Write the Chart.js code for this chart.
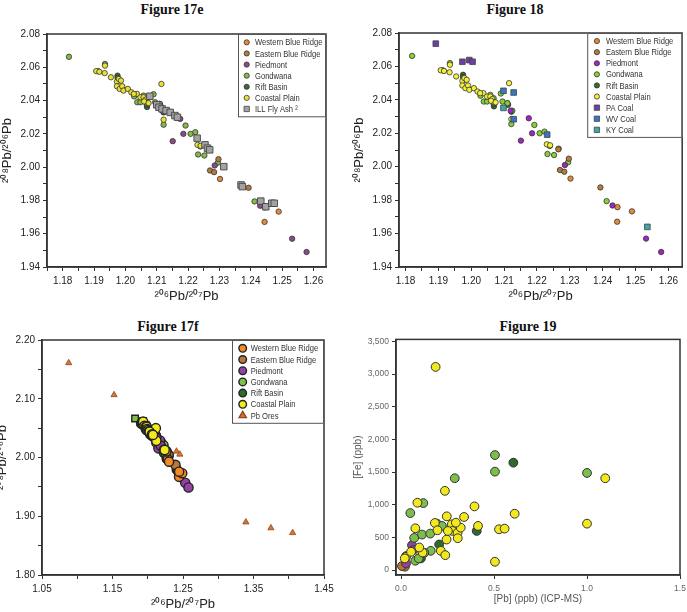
<!DOCTYPE html>
<html>
<head>
<meta charset="utf-8">
<script src="https://cdn.jsdelivr.net/npm/chart.js@4.4.0/dist/chart.umd.min.js"></script>
<style>
    html, body { margin: 0; padding: 0; background: #fff; }
    #page { position: relative; width: 687px; height: 612px; overflow: hidden; }
    .fig-title {
        position: absolute; width: 200px; text-align: center;
        font-family: 'Liberation Serif', 'Times New Roman', serif;
        font-weight: bold; font-size: 14px; color: #111; line-height: 16px;
    }
    .panel { position: absolute; }
</style>
</head>
<body>
<div id="page">
    <div class="fig-title" style="left:72px; top:2px;">Figure 17e</div>
    <div class="fig-title" style="left:415px; top:2px;">Figure 18</div>
    <div class="fig-title" style="left:68px; top:319px;">Figure 17f</div>
    <div class="fig-title" style="left:428px; top:319px;">Figure 19</div>

    <div class="panel" style="left:0; top:22px; width:343px; height:284px;"><canvas id="fig17e"></canvas></div>
    <div class="panel" style="left:343px; top:22px; width:344px; height:284px;"><canvas id="fig18"></canvas></div>
    <div class="panel" style="left:0; top:334px; width:343px; height:278px;"><canvas id="fig17f"></canvas></div>
    <div class="panel" style="left:343px; top:334px; width:344px; height:278px;"><canvas id="fig19"></canvas></div>
</div>

<script>
// ---- Lead isotope ratios (206Pb/207Pb, 208Pb/206Pb) ----
const westernBlueRidge = [[1.2302, 1.9929], [1.2444, 1.9671], [1.2489, 1.9733], [1.2445, 1.9758]];
const easternBlueRidge = [[1.2297, 2.0048], [1.2270, 1.9980], [1.2283, 1.9970], [1.2393, 1.9876], [1.2265, 2.0104]];
const piedmont = [[1.2175, 2.0290], [1.2151, 2.0156], [1.2185, 2.0200], [1.2285, 2.0010], [1.2430, 1.9768],
    [1.2532, 1.9570], [1.2578, 1.9490], [1.2120, 2.0335]];
const gondwana = [[1.1820, 2.0663], [1.1935, 2.0620], [1.1913, 2.0577], [1.2038, 2.0390], [1.2048, 2.0390],
    [1.2058, 2.0430], [1.2090, 2.0438], [1.2095, 2.0390], [1.2110, 2.0380], [1.2122, 2.0255], [1.2192, 2.0250],
    [1.2208, 2.0200], [1.2223, 2.0210], [1.2232, 2.0076], [1.2239, 2.0124], [1.2252, 2.0070], [1.2266, 2.0108],
    [1.2295, 2.0027], [1.2412, 1.9794], [1.2028, 2.0425], [1.2068, 2.0410], [1.2125, 2.0335]];
const riftBasin = [[1.1975, 2.0550], [1.1975, 2.0537], [1.1978, 2.0520], [1.2069, 2.0361], [1.2110, 2.0380],
    [1.2112, 2.0370], [1.2122, 2.0329], [1.2068, 2.0375], [1.2055, 2.0410]];
const coastalPlain = [[1.1907, 2.0577], [1.1917, 2.0573], [1.1934, 2.0565], [1.1935, 2.0610], [1.1954, 2.0540],
    [1.1973, 2.0514], [1.1973, 2.0486], [1.1979, 2.0530], [1.1986, 2.0520], [1.1982, 2.0470], [1.1990, 2.0486],
    [1.1994, 2.0460], [1.2008, 2.0470], [1.2019, 2.0450], [1.2037, 2.0440], [1.2048, 2.0420], [1.2058, 2.0420],
    [1.2064, 2.0405], [1.2069, 2.0386], [1.2115, 2.0500], [1.2122, 2.0285], [1.2230, 2.0134], [1.2027, 2.0440],
    [1.2060, 2.0395], [1.2074, 2.0385], [1.2240, 2.0128]];
const illFlyAsh = [[1.2078, 2.0426], [1.2100, 2.0375], [1.2107, 2.0360], [1.2117, 2.0350], [1.2130, 2.0340],
    [1.2143, 2.0329], [1.2158, 2.0310], [1.2166, 2.0300], [1.2229, 2.0174], [1.2254, 2.0134], [1.2262, 2.0114],
    [1.2269, 2.0104], [1.2314, 2.0003], [1.2369, 1.9893], [1.2373, 1.9883], [1.2432, 1.9796], [1.2448, 1.9762],
    [1.2467, 1.9783], [1.2475, 1.9783]];
const paCoal = [[1.1892, 2.0736], [1.1973, 2.0628], [1.1994, 2.0638], [1.2004, 2.0628]];
const wvCoal = [[1.2098, 2.0454], [1.2129, 2.0444], [1.2129, 2.0284], [1.2231, 2.0192]];
const kyCoal = [[1.2098, 2.0352], [1.2536, 1.9640]];
const pbOres = [[1.0879, 2.1610], [1.1522, 2.1066], [1.2408, 2.0105], [1.2455, 2.0054], [1.2127, 2.0370],
    [1.3392, 1.8900], [1.3747, 1.8800], [1.4055, 1.8718]];

// ---- Figure 19: [Pb] (ppb) vs [Fe] (ppb) ----
const fePbCoastal = [[0.186, 3109], [0.236, 1212], [0.088, 1030], [0.077, 639], [0.116, 268], [0.027, 203],
    [0.020, 178], [0.182, 720], [0.196, 609], [0.214, 294], [0.238, 228], [0.246, 822], [0.339, 812],
    [0.395, 974], [0.611, 862], [0.414, 675], [0.527, 624], [0.557, 634], [0.505, 127], [1.000, 710],
    [1.098, 1405], [0.273, 700], [0.277, 598], [0.304, 568], [0.305, 487], [0.321, 649], [0.245, 467],
    [0.252, 598], [0.295, 725], [0.098, 345], [0.054, 279]];
const fePbGondwana = [[0.050, 872], [0.120, 1025], [0.289, 1405], [0.505, 1760], [0.505, 1506], [1.000, 1486],
    [0.071, 492], [0.113, 543], [0.157, 558], [0.193, 710], [0.220, 675], [0.160, 294], [0.077, 142],
    [0.027, 213], [0.095, 178], [0.125, 264]];
const fePbRift = [[0.604, 1643], [0.407, 598], [0.205, 391], [0.107, 178]];
const fePbPiedmont = [[0.059, 380], [0.066, 304], [0.027, 101]];
const fePbBlueRidge = [[0.021, 51], [0.005, 61]];

// tick values for figure 19
const fig19XTicks = [0, 0.5, 1.0, 1.5];
const fig19YTicks = [0, 500, 1000, 1500, 2000, 2500, 3000, 3500];

const FONT = "'Liberation Sans', Arial, sans-serif";
const AXIS = '#333';

// Build a scatter dataset from an array of [x, y] pairs
function series(label, pts, color, style, r, bw, extra) {
    return Object.assign({
        label: label,
        data: pts.map(p => ({ x: p[0], y: p[1] })),
        backgroundColor: color,
        borderColor: extra && extra.edge ? extra.edge : '#333',
        pointBackgroundColor: color,
        pointBorderColor: extra && extra.edge ? extra.edge : '#333',
        pointBorderWidth: bw,
        pointRadius: r,
        pointHoverRadius: r,
        pointStyle: style,
        showLine: false
    }, extra || {});
}

function drawMarker(ctx, style, x, y, r, fill, edge, bw) {
    ctx.beginPath();
    if (style === 'rect') {
        const s = r * Math.SQRT1_2;
        ctx.rect(x - s, y - s, 2 * s, 2 * s);
    } else if (style === 'triangle') {
        ctx.moveTo(x, y - r);
        ctx.lineTo(x + r * 0.866, y + r * 0.5);
        ctx.lineTo(x - r * 0.866, y + r * 0.5);
        ctx.closePath();
    } else {
        ctx.arc(x, y, r, 0, Math.PI * 2);
    }
    ctx.fillStyle = fill;
    ctx.fill();
    ctx.lineWidth = bw;
    ctx.strokeStyle = edge;
    ctx.stroke();
}

// Legend drawn inside the top-right corner of the plot, plus a closed frame
const frameAndLegend = {
    id: 'frameAndLegend',
    afterDatasetsDraw(chart, args, opts) {
        const ctx = chart.ctx, a = chart.chartArea;
        ctx.save();
        ctx.strokeStyle = AXIS;
        ctx.lineWidth = 1.5;
        ctx.strokeRect(a.left, a.top, a.right - a.left, a.bottom - a.top);
        if (opts && opts.display) {
            const items = chart.data.datasets.filter(d => d.inLegend !== false);
            const x0 = a.right - opts.width, y0 = a.top;
            const h = opts.pad * 2 + items.length * opts.rowH;
            ctx.fillStyle = '#fff';
            ctx.fillRect(x0, y0, opts.width, h);
            ctx.lineWidth = 1;
            ctx.strokeStyle = '#555';
            ctx.strokeRect(x0 + 0.5, y0 + 0.5, opts.width - 1, h - 1);
            ctx.font = opts.fontSize + 'px ' + FONT;
            ctx.textBaseline = 'middle';
            items.forEach((d, i) => {
                const cy = y0 + opts.pad + opts.rowH * (i + 0.5);
                const st = typeof d.pointStyle === 'string' ? d.pointStyle : 'circle';
                const mr = st === 'rect' ? opts.markerR * 1.45 : (st === 'triangle' ? opts.markerR * 1.1 : opts.markerR);
                drawMarker(ctx, st, x0 + opts.markerX, cy, mr, d.pointBackgroundColor, d.pointBorderColor, opts.markerBw);
                ctx.fillStyle = '#333';
                const w = ctx.measureText(d.label).width * opts.squeeze;
                ctx.fillText(d.label, x0 + opts.textX, cy + 0.5, w);
            });
        }
        ctx.restore();
    }
};

// Linear axis with outward ticks, no grid inside the plot
function axis(o) {
    const cfg = {
        type: 'linear',
        min: o.min, max: o.max,
        afterFit: s => {
            if (o.w !== undefined) s.width = o.w;
            if (o.h !== undefined) s.height = o.h;
            s.paddingLeft = 0; s.paddingRight = 0; s.paddingTop = 0; s.paddingBottom = 0;
        },
        border: { display: true, color: AXIS, width: 1.5 },
        grid: { drawOnChartArea: false, drawTicks: true, tickLength: 4, color: AXIS, lineWidth: 1 },
        ticks: {
            stepSize: o.step, includeBounds: false, autoSkip: false, maxRotation: 0,
            padding: o.tickPad !== undefined ? o.tickPad : 3,
            color: o.tickColor || '#222',
            font: { family: FONT, size: o.tickSize || 10 },
            callback: o.label
        },
        title: {
            display: true, text: o.title, color: o.titleColor || '#222',
            font: { family: FONT, size: o.titleSize || 13 },
            padding: o.titlePad
        }
    };
    if (o.tickValues) {
        cfg.afterBuildTicks = s => { s.ticks = o.tickValues.map(v => ({ value: v })); };
    }
    return cfg;
}

const onHundredth = v => Math.abs(v * 100 - Math.round(v * 100)) < 1e-6;
const xLabelE = v => onHundredth(v) ? v.toFixed(2) : '';
const yLabelE = v => onHundredth(v) && Math.round(v * 100) % 2 === 0 ? v.toFixed(2) : '';
const xLabelF = v => Math.round(v * 100) % 10 === 5 ? v.toFixed(2) : '';
const yLabelF = v => Math.round(v * 100) % 10 === 0 ? v.toFixed(2) : '';

const X_TITLE = '\u00B2\u2070\u2076Pb/\u00B2\u2070\u2077Pb';
const Y_TITLE = '\u00B2\u2070\u2078Pb/\u00B2\u2070\u2076Pb';

function baseOptions(pad, scales, legend) {
    return {
        responsive: true,
        maintainAspectRatio: false,
        animation: false,
        devicePixelRatio: 1,
        layout: { padding: pad },
        scales: scales,
        plugins: {
            legend: { display: false },
            tooltip: { enabled: false },
            frameAndLegend: legend || { display: false }
        }
    };
}

Chart.register(frameAndLegend);

// Figure 17e
new Chart(document.getElementById('fig17e'), {
    type: 'scatter',
    data: {
        datasets: [
            series('Western Blue Ridge', westernBlueRidge, '#E38B3A', 'circle', 2.7, 0.8),
            series('Eastern Blue Ridge', easternBlueRidge, '#B27A3E', 'circle', 2.7, 0.8),
            series('Piedmont', piedmont, '#8B4A90', 'circle', 2.7, 0.8),
            series('Gondwana', gondwana, '#86B84A', 'circle', 2.7, 0.8),
            series('Rift Basin', riftBasin, '#3A6B33', 'circle', 2.7, 0.8),
            series('Coastal Plain', coastalPlain, '#E9E034', 'circle', 2.7, 0.8, { order: -1 }),
            series('ILL Fly Ash \u00B2', illFlyAsh, '#A2A2A2', 'rect', 4.6, 0.9, { order: -2, edge: '#444' })
        ]
    },
    options: baseOptions({ top: 12, right: 17, left: 0, bottom: 0 }, {
        x: axis({ min: 1.175, max: 1.264, step: 0.005, h: 39, label: xLabelE, title: X_TITLE, titlePad: { top: 0, bottom: 2 }, tickPad: 4 }),
        y: axis({ min: 1.94, max: 2.08, step: 0.01, w: 47, label: yLabelE, title: Y_TITLE, titlePad: { top: 0, bottom: 0 } })
    }, { display: true, width: 88, pad: 2.8, rowH: 11.1, markerX: 8.7, textX: 17, markerR: 2.6, markerBw: 0.8, fontSize: 9.5, squeeze: 0.8 })
});

// Figure 18
new Chart(document.getElementById('fig18'), {
    type: 'scatter',
    data: {
        datasets: [
            series('Western Blue Ridge', westernBlueRidge, '#E38B30', 'circle', 2.7, 0.8),
            series('Eastern Blue Ridge', easternBlueRidge, '#B57B3A', 'circle', 2.7, 0.8),
            series('Piedmont', piedmont, '#A324C4', 'circle', 2.7, 0.8),
            series('Gondwana', gondwana, '#84D233', 'circle', 2.7, 0.8),
            series('Rift Basin', riftBasin, '#3A6B33', 'circle', 2.7, 0.8),
            series('Coastal Plain', coastalPlain, '#F2F03C', 'circle', 2.7, 0.8, { order: -1 }),
            series('PA Coal', paCoal, '#6C3FA3', 'rect', 4.0, 0.8, { order: -2, edge: '#444' }),
            series('WV Coal', wvCoal, '#3877C4', 'rect', 4.0, 0.8, { order: -2, edge: '#444' }),
            series('KY Coal', kyCoal, '#3FA6A4', 'rect', 4.0, 0.8, { order: -2, edge: '#444' })
        ]
    },
    options: baseOptions({ top: 11, right: 2, left: 0, bottom: 0 }, {
        x: axis({ min: 1.178, max: 1.2642, step: 0.005, h: 39, label: xLabelE, title: X_TITLE, titlePad: { top: 0, bottom: 2 }, tickPad: 4 }),
        y: axis({ min: 1.94, max: 2.08, step: 0.01, w: 56, label: yLabelE, title: Y_TITLE, titlePad: { top: 9, bottom: 0 } })
    }, { display: true, width: 95, pad: 2.5, rowH: 11.1, markerX: 9.7, textX: 18.7, markerR: 2.6, markerBw: 0.8, fontSize: 9.5, squeeze: 0.8 })
});

// Figure 17f
new Chart(document.getElementById('fig17f'), {
    type: 'scatter',
    data: {
        datasets: [
            series('Western Blue Ridge', westernBlueRidge, '#F28A26', 'circle', 4.6, 1.4, { edge: '#222' }),
            series('Eastern Blue Ridge', easternBlueRidge, '#B57A3C', 'circle', 4.6, 1.4, { edge: '#222' }),
            series('Piedmont', piedmont, '#9343A3', 'circle', 4.6, 1.4, { edge: '#222' }),
            series('Gondwana', gondwana, '#7DC243', ctx => ctx.dataIndex < 2 ? 'rect' : 'circle', 4.6, 1.4, { edge: '#222' }),
            series('Rift Basin', riftBasin, '#2F6A30', 'circle', 4.6, 1.4, { edge: '#222' }),
            series('Coastal Plain', coastalPlain, '#F2EA1A', 'circle', 4.6, 1.4, { edge: '#222', order: -1 }),
            series('Pb Ores', pbOres, '#DA7332', 'triangle', 3.6, 0.8, { edge: '#8A4A1E' })
        ]
    },
    options: baseOptions({ top: 5, right: 19, left: 0, bottom: 0 }, {
        x: axis({ min: 1.05, max: 1.45, step: 0.05, h: 37, label: xLabelF, title: X_TITLE, titlePad: { top: 0, bottom: 0 }, tickPad: 4 }),
        y: axis({ min: 1.80, max: 2.20, step: 0.05, w: 42, label: yLabelF, title: Y_TITLE, titlePad: { top: -5, bottom: 0 } })
    }, { display: true, width: 92, pad: 2.7, rowH: 11.2, markerX: 10.7, textX: 18.7, markerR: 3.8, markerBw: 1.4, fontSize: 9.5, squeeze: 0.8 })
});

// Figure 19
new Chart(document.getElementById('fig19'), {
    type: 'scatter',
    data: {
        datasets: [
            series('Coastal Plain', fePbCoastal, '#F2E81C', 'circle', 4.4, 1, { order: -1 }),
            series('Gondwana', fePbGondwana, '#7DBD4C', 'circle', 4.4, 1),
            series('Rift Basin', fePbRift, '#2E6A30', 'circle', 4.4, 1),
            series('Piedmont', fePbPiedmont, '#8E43A0', 'circle', 4.4, 1),
            series('Blue Ridge', fePbBlueRidge, '#B8742E', 'circle', 4.4, 1)
        ]
    },
    options: baseOptions({ top: 4, right: 7, left: 0, bottom: 0 }, {
        x: axis({ min: -0.027, max: 1.5, tickValues: fig19XTicks, h: 37, label: v => v.toFixed(1), title: '[Pb] (ppb) (ICP-MS)',
            titlePad: { top: 0, bottom: 7 }, tickSize: 8.5, tickColor: '#666', titleSize: 10, titleColor: '#555', tickPad: 5 }),
        y: axis({ min: -76, max: 3530, tickValues: fig19YTicks, w: 53, label: v => v.toLocaleString('en-US'), title: '[Fe] (ppb)',
            titlePad: { top: 9, bottom: 0 }, tickSize: 8.5, tickColor: '#666', titleSize: 10, titleColor: '#555' })
    })
});
</script>
</body>
</html>
